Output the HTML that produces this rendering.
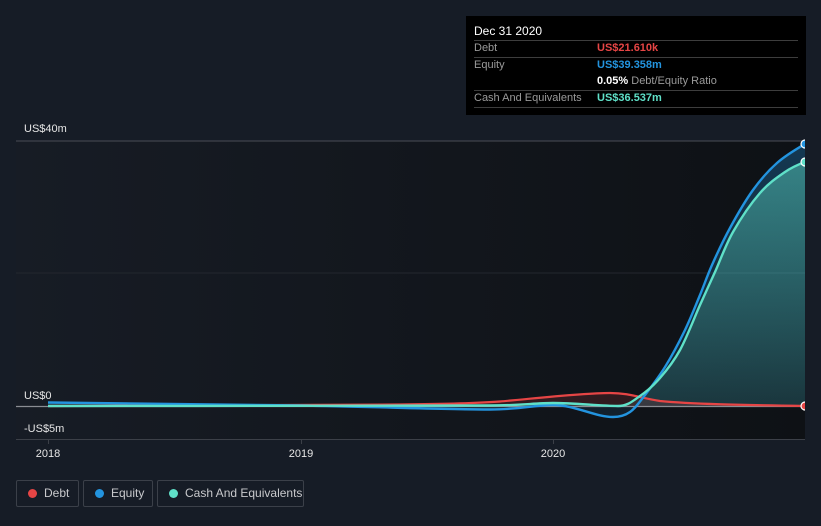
<!DOCTYPE html>
<html><head><meta charset="utf-8"><style>
html,body{margin:0;padding:0;background:#161c26;}
body{width:821px;height:526px;position:relative;overflow:hidden;font-family:"Liberation Sans",sans-serif;}
.tt{position:absolute;left:466px;top:16px;width:340px;height:99px;background:#000;}
.tt .t{position:absolute;left:8px;top:8px;color:#fff;font-size:12px;}
.tt .ln{position:absolute;left:8px;width:324px;height:1px;background:#3d3d3d;}
.tt .l{position:absolute;left:8px;color:#9a9a9a;font-size:11px;}
.tt .v{position:absolute;left:131px;font-size:11px;font-weight:bold;}
.leg{position:absolute;top:480px;height:25px;border:1px solid #3b4049;border-radius:2px;color:#c8c9cc;font-size:12px;line-height:25px;box-sizing:content-box;}
.leg i{position:absolute;left:11px;top:8px;width:9px;height:9px;border-radius:50%;}
.leg span{position:absolute;left:27px;}
</style></head><body>
<svg width="821" height="526" style="position:absolute;left:0;top:0">
<defs>
<linearGradient id="bg" x1="0" x2="1" y1="0" y2="0">
<stop offset="0" stop-color="#171c25"/><stop offset="1" stop-color="#0e1115"/>
</linearGradient>
<linearGradient id="cf" gradientUnits="userSpaceOnUse" x1="0" y1="160" x2="0" y2="406">
<stop offset="0" stop-color="#5fe0c8" stop-opacity="0.45"/><stop offset="1" stop-color="#5fe0c8" stop-opacity="0.12"/>
</linearGradient>
<linearGradient id="ef" gradientUnits="userSpaceOnUse" x1="0" y1="144" x2="0" y2="406">
<stop offset="0" stop-color="#2394df" stop-opacity="0.3"/><stop offset="1" stop-color="#2394df" stop-opacity="0.1"/>
</linearGradient>
<clipPath id="cp"><rect x="16" y="100" width="789" height="340"/></clipPath>
</defs>
<rect x="16" y="141" width="789" height="298" fill="url(#bg)"/>
<line x1="16" y1="141" x2="805" y2="141" stroke="#4a4d55" stroke-width="1"/>
<line x1="16" y1="273" x2="805" y2="273" stroke="#23272e" stroke-width="1"/>
<line x1="16" y1="439.5" x2="805" y2="439.5" stroke="#3c4048" stroke-width="1"/>
<line x1="48.5" y1="439" x2="48.5" y2="444" stroke="#3c4048"/>
<line x1="301.5" y1="439" x2="301.5" y2="444" stroke="#3c4048"/>
<line x1="553.5" y1="439" x2="553.5" y2="444" stroke="#3c4048"/>
<g clip-path="url(#cp)">
<path d="M48,402.5 C150,403 250,404.5 301,405.5 C380,407 450,409.5 490,409.5 C520,409.5 535,405 553,405 C575,405 595,417 613,417 C620,417 624.7,415.7 630,412 C635.3,408.3 639.2,402.5 645,395 C650.8,387.5 658.3,377.8 665,367 C671.7,356.2 679.2,342 685,330 C690.8,318 695.5,305.8 700,295 C704.5,284.2 707,276.2 712,265 C717,253.8 723.2,240.5 730,228 C736.8,215.5 745.2,200.8 753,190 C760.8,179.2 768.3,170.7 777,163 C785.7,155.3 796.2,149.2 805,144 L805,406 L48,406 Z" fill="url(#ef)"/>
<path d="M48,406 C200,406 400,405.5 490,405.5 C520,405.5 535,403 553,403 C575,403 600,406 618,406 C628,406 633,400.7 640,396 C647,391.3 653.3,385.7 660,378 C666.7,370.3 673.3,362.2 680,350 C686.7,337.8 694.2,318 700,305 C705.8,292 709.5,284.2 715,272 C720.5,259.8 725.5,245.2 733,232 C740.5,218.8 751.3,203 760,193 C768.7,183 777.5,177.2 785,172 C792.5,166.8 798.3,164.5 805,162 L805,406 L48,406 Z" fill="url(#cf)"/>
<path d="M400,404.5 C450,404 480,403 500,401.5 C530,399 580,393 610,393 C630,393 640,398 660,401 C690,404 740,405 805,406 L805,406 L400,406 Z" fill="#e64545" fill-opacity="0.15"/>
<line x1="16" y1="406.5" x2="805" y2="406.5" stroke="#8a8d93" stroke-width="1.2"/>
<path d="M48,406 C200,406 300,406 400,404.5 C450,404 480,403 500,401.5 C530,399 580,393 610,393 C630,393 640,398 660,401 C690,404 740,405 805,406" fill="none" stroke="#e64545" stroke-width="2.2"/>
<path d="M48,402.5 C150,403 250,404.5 301,405.5 C380,407 450,409.5 490,409.5 C520,409.5 535,405 553,405 C575,405 595,417 613,417 C620,417 624.7,415.7 630,412 C635.3,408.3 639.2,402.5 645,395 C650.8,387.5 658.3,377.8 665,367 C671.7,356.2 679.2,342 685,330 C690.8,318 695.5,305.8 700,295 C704.5,284.2 707,276.2 712,265 C717,253.8 723.2,240.5 730,228 C736.8,215.5 745.2,200.8 753,190 C760.8,179.2 768.3,170.7 777,163 C785.7,155.3 796.2,149.2 805,144" fill="none" stroke="#2394df" stroke-width="2.4"/>
<path d="M48,406 C200,406 400,405.5 490,405.5 C520,405.5 535,403 553,403 C575,403 600,406 618,406 C628,406 633,400.7 640,396 C647,391.3 653.3,385.7 660,378 C666.7,370.3 673.3,362.2 680,350 C686.7,337.8 694.2,318 700,305 C705.8,292 709.5,284.2 715,272 C720.5,259.8 725.5,245.2 733,232 C740.5,218.8 751.3,203 760,193 C768.7,183 777.5,177.2 785,172 C792.5,166.8 798.3,164.5 805,162" fill="none" stroke="#5fe0c8" stroke-width="2.4"/>
<circle cx="805" cy="144" r="4" fill="#2394df" stroke="#fff" stroke-width="1.2"/>
<circle cx="805" cy="162" r="4" fill="#5fe0c8" stroke="#fff" stroke-width="1.2"/>
<circle cx="805" cy="406" r="4" fill="#e64545" stroke="#fff" stroke-width="1.2"/>
</g>
<text x="24" y="132" fill="#e6e6e6" font-size="11" font-family="Liberation Sans, sans-serif">US$40m</text>
<text x="24" y="399" fill="#e6e6e6" font-size="11" font-family="Liberation Sans, sans-serif">US$0</text>
<text x="24" y="432" fill="#e6e6e6" font-size="11" font-family="Liberation Sans, sans-serif">-US$5m</text>
<text x="48" y="457" fill="#e6e6e6" font-size="11" text-anchor="middle" font-family="Liberation Sans, sans-serif">2018</text>
<text x="301" y="457" fill="#e6e6e6" font-size="11" text-anchor="middle" font-family="Liberation Sans, sans-serif">2019</text>
<text x="553" y="457" fill="#e6e6e6" font-size="11" text-anchor="middle" font-family="Liberation Sans, sans-serif">2020</text>
</svg>
<div class="tt">
<div class="t">Dec 31 2020</div>
<div class="ln" style="top:24px"></div>
<div class="l" style="top:26px">Debt</div><div class="v" style="top:26px;color:#e64545">US$21.610k</div>
<div class="ln" style="top:41px"></div>
<div class="l" style="top:43px">Equity</div><div class="v" style="top:43px;color:#2394df">US$39.358m</div>
<div class="v" style="top:59px;color:#fff">0.05% <span style="color:#9a9a9a;font-weight:normal">Debt/Equity Ratio</span></div>
<div class="ln" style="top:74px"></div>
<div class="l" style="top:76px">Cash And Equivalents</div><div class="v" style="top:76px;color:#5fe0c8">US$36.537m</div>
<div class="ln" style="top:91px"></div>
</div>
<div class="leg" style="left:16px;width:61px"><i style="background:#e64545"></i><span>Debt</span></div>
<div class="leg" style="left:83px;width:68px"><i style="background:#2394df"></i><span>Equity</span></div>
<div class="leg" style="left:157px;width:145px"><i style="background:#5fe0c8"></i><span>Cash And Equivalents</span></div>
</body></html>
